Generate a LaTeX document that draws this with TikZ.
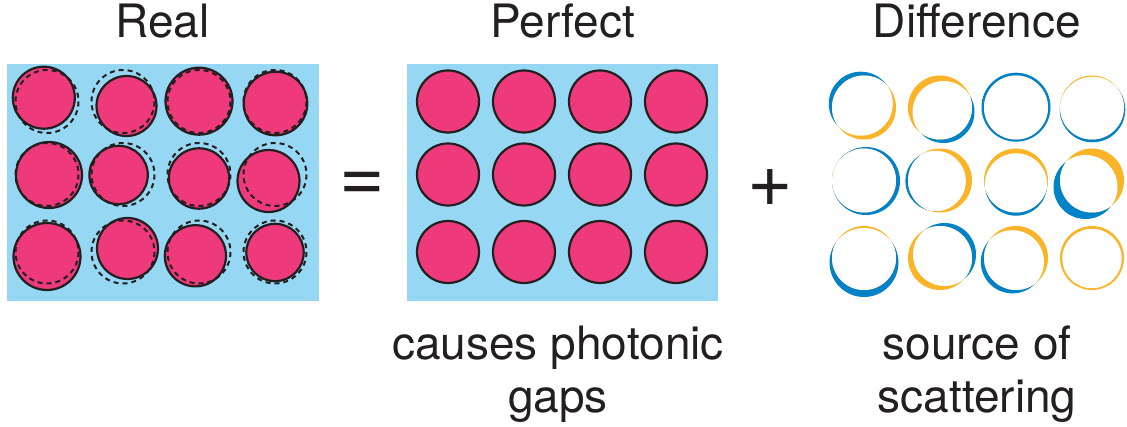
\documentclass[tikz,border=0pt]{standalone}
\usepackage{fontspec}
\setmainfont{TeX Gyre Heros}
\usetikzlibrary{positioning}
\definecolor{rose}{RGB}{238,58,122}
\definecolor{sky}{RGB}{150,216,244}
\definecolor{cobalt}{RGB}{0,130,200}
\definecolor{saffron}{RGB}{251,180,40}
\definecolor{ink}{RGB}{35,31,32}
\tikzset{
  rod/.style={draw=ink,fill=rose,line width=2.2pt},
  ghost/.style={draw=ink,line width=2pt,dash pattern=on 5pt off 4pt},
  heading/.style={font=\fontsize{46}{50}\selectfont,text=ink,anchor=base,inner sep=0pt},
  note/.style={font=\fontsize{46}{53}\selectfont,text=ink,align=center,anchor=north,inner sep=0pt},
  sign/.style={font=\fontsize{78}{80}\selectfont,text=ink,inner sep=0pt},
}
% grid position / shift of the real rod / change of radius
\newcommand{\rodlist}{
  47/101.5/-3.2/-3.8/0, 123/101.5/3.5/4.5/-1, 199/101.5/0/-0.3/2.5, 275/101.5/0.5/2/0.8,
  47/174.5/2/0.5/2, 123/174.5/-4.4/0.5/-1.8, 199/174.5/0/4/-0.8, 275/174.5/-6.5/6.5/0,
  47/252/0/4.5/2.5, 123/252/4.5/-3.5/-0.5, 199/252/-3.6/3.8/-0.4, 275/252/0/0.5/-2.3}

\begin{document}
\begin{tikzpicture}[x=1pt,y=-1pt]
  \useasboundingbox (0,0) rectangle (1127,427);

  % real crystal
  \fill[sky] (7,64) rectangle (318.5,301.5);
  \foreach \cx/\cy/\dx/\dy/\dr in \rodlist
    \draw[rod] (\cx+\dx,\cy+\dy) circle[radius=31+\dr];
  \foreach \cx/\cy/\dx/\dy/\dr in \rodlist
    \draw[ghost] (\cx,\cy) circle[radius=31.5];

  % perfect crystal
  \begin{scope}[shift={(401,0)}]
    \fill[sky] (6,64) rectangle (317,301);
    \foreach \cx/\cy/\dx/\dy/\dr in \rodlist
      \draw[rod] (\cx,\cy) circle[radius=31];
  \end{scope}

  % difference
  \begin{scope}[shift={(817,6)}]
    \foreach \cx/\cy/\dx/\dy/\dr in \rodlist {
      \fill[cobalt] (\cx+\dx,\cy+\dy) circle[radius=32+\dr];
      \fill[saffron] (\cx,\cy) circle[radius=32];
      \begin{scope}
        \clip (\cx+\dx,\cy+\dy) circle[radius=32+\dr];
        \fill[white] (\cx,\cy) circle[radius=32];
      \end{scope}
    }
  \end{scope}

  \node[heading] (real) at (162.5,37.5) {Real};
  \node[heading] (perfect) at (562.5,37.5) {Perfect};
  \node[heading] (difference) at (977,37.5) {Difference};
  \node[sign] (equals) at (362,186.5) {=};
  \node[sign] (plus) at (770.3,188.3) {+};
  \node[note] (gaps) at (558,326) {causes photonic\\gaps};
  \node[note] (scatter) at (977,326) {source of\\scattering};
\end{tikzpicture}
\end{document}
